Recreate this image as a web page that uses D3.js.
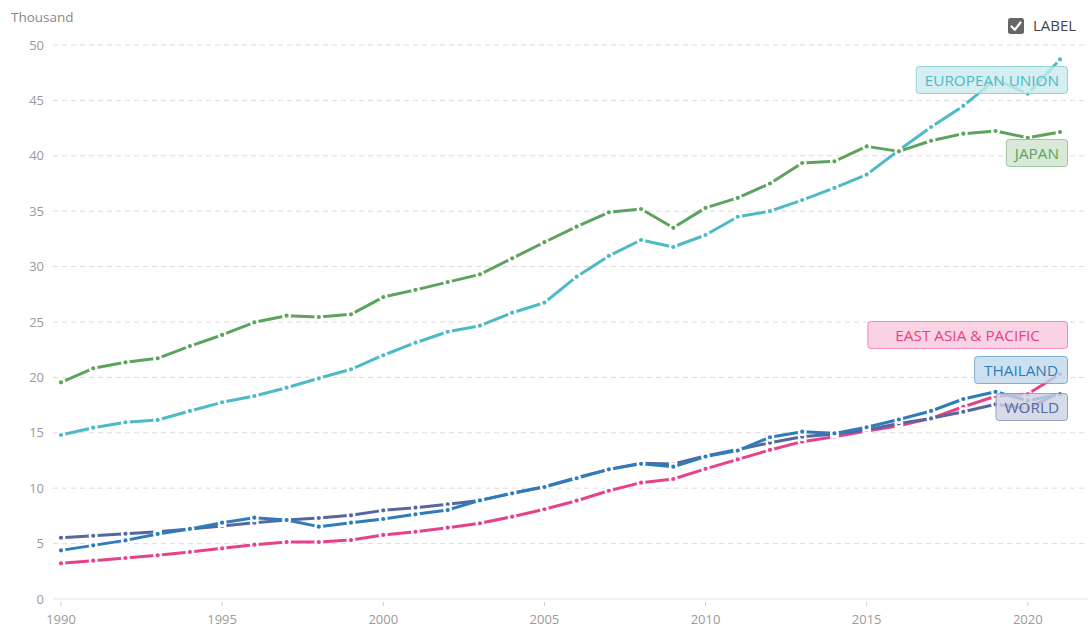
<!DOCTYPE html>
<html>
<head>
<meta charset="utf-8">
<script src="https://cdn.jsdelivr.net/npm/d3@7"></script>
<style>
  html, body { margin: 0; padding: 0; background: #fff; }
  svg { display: block; font-family: "Open Sans", "Noto Sans", sans-serif; }
</style>
</head>
<body>
<svg id="chart" width="1088" height="628"></svg>
<script>
const years = d3.range(1990, 2022);
const seriesNames = ["European Union", "Japan", "East Asia & Pacific", "Thailand", "World"];
const seriesLabels = ["EUROPEAN UNION", "JAPAN", "EAST ASIA & PACIFIC", "THAILAND", "WORLD"];
const euValues = [14.8, 15.46, 15.95, 16.16, 16.97, 17.75, 18.32, 19.07, 19.92, 20.73, 22.0, 23.13, 24.12, 24.67, 25.84, 26.74, 29.09, 30.96, 32.4, 31.77, 32.85, 34.5, 35.0, 36.0, 37.1, 38.3, 40.5, 42.6, 44.5, 46.9, 45.6, 48.7];
const japanValues = [19.56, 20.82, 21.36, 21.72, 22.83, 23.83, 24.97, 25.57, 25.45, 25.69, 27.25, 27.9, 28.6, 29.3, 30.75, 32.2, 33.6, 34.9, 35.2, 33.5, 35.3, 36.2, 37.5, 39.35, 39.5, 40.85, 40.4, 41.36, 42.0, 42.24, 41.63, 42.15];
const eapValues = [3.22, 3.46, 3.70, 3.94, 4.24, 4.57, 4.9, 5.14, 5.14, 5.32, 5.78, 6.07, 6.44, 6.83, 7.43, 8.1, 8.87, 9.77, 10.5, 10.83, 11.75, 12.6, 13.45, 14.2, 14.65, 15.16, 15.64, 16.3, 17.35, 18.3, 18.5, 20.3];
const thailandValues = [4.39, 4.84, 5.29, 5.87, 6.32, 6.89, 7.34, 7.13, 6.53, 6.89, 7.22, 7.64, 8.03, 8.9, 9.54, 10.1, 10.9, 11.7, 12.2, 11.94, 12.85, 13.4, 14.6, 15.1, 14.95, 15.5, 16.2, 16.97, 18.05, 18.7, 17.9, 18.5];
const worldValues = [5.53, 5.71, 5.89, 6.07, 6.32, 6.59, 6.89, 7.13, 7.31, 7.55, 8.0, 8.24, 8.55, 8.9, 9.54, 10.14, 10.95, 11.7, 12.25, 12.18, 12.9, 13.5, 14.1, 14.65, 14.9, 15.25, 15.85, 16.3, 16.9, 17.57, 17.2, 18.65];
const yTicks = [0, 5, 10, 15, 20, 25, 30, 35, 40, 45, 50];
const xTicks = [1990, 1995, 2000, 2005, 2010, 2015, 2020];
const unitLabel = "Thousand";
const legendText = "LABEL";

const colors = ["#4dbac6", "#5ca35c", "#e6428a", "#2e7dbb", "#5667a0"];
const valuesList = [euValues, japanValues, eapValues, thailandValues, worldValues];
// label layout (pixels), layout only
const labelCenters = [80, 153, 335, 370, 407];
const labelPads = [9, 9, 28, 10, 9];

const svg = d3.select("#chart");
const x = d3.scaleLinear().domain([1990, 2021]).range([61, 1060]);
const y = d3.scaleLinear().domain([0, 50]).range([599, 45]);
const gridLeft = 53, gridRight = 1088;

// grid
svg.append("g").selectAll("line")
  .data(yTicks.filter(d => d > 0))
  .join("line")
  .attr("x1", gridLeft).attr("x2", gridRight)
  .attr("y1", d => y(d)).attr("y2", d => y(d))
  .attr("stroke", "#dcdcdc").attr("stroke-width", 1)
  .attr("stroke-dasharray", "5,4");
svg.append("line")
  .attr("x1", gridLeft).attr("x2", gridRight)
  .attr("y1", y(0)).attr("y2", y(0))
  .attr("stroke", "#e2e2e2").attr("stroke-width", 1);

// y axis labels
svg.append("g").selectAll("text")
  .data(yTicks)
  .join("text")
  .attr("x", 44).attr("y", d => y(d))
  .attr("dy", "0.35em")
  .attr("text-anchor", "end")
  .attr("font-size", 13)
  .attr("fill", "#9a9a9a")
  .text(d => d);

svg.append("text")
  .attr("x", 11).attr("y", 22)
  .attr("font-size", 13.5)
  .attr("fill", "#888")
  .text(unitLabel);

// x axis ticks & labels
const xg = svg.append("g");
xg.selectAll("line")
  .data(xTicks)
  .join("line")
  .attr("x1", d => x(d)).attr("x2", d => x(d))
  .attr("y1", y(0) + 3).attr("y2", y(0) + 7)
  .attr("stroke", "#cfcfcf");
xg.selectAll("text")
  .data(xTicks)
  .join("text")
  .attr("x", d => x(d)).attr("y", 624)
  .attr("text-anchor", "middle")
  .attr("font-size", 13)
  .attr("fill", "#9a9a9a")
  .text(d => d);

// lines
const line = d3.line().x((d, i) => x(years[i])).y(d => y(d));
const drawOrder = [0, 1, 2, 4, 3];
drawOrder.forEach(si => {
  const vals = valuesList[si];
  const g = svg.append("g");
  g.append("path")
    .datum(vals)
    .attr("d", line)
    .attr("fill", "none")
    .attr("stroke", colors[si])
    .attr("stroke-width", 3)
    .attr("stroke-linejoin", "round");
  g.selectAll("circle")
    .data(vals)
    .join("circle")
    .attr("cx", (d, i) => x(years[i]))
    .attr("cy", d => y(d))
    .attr("r", 3.3)
    .attr("fill", colors[si])
    .attr("stroke", "#fff")
    .attr("stroke-width", 2.4);
});

// labels
const labelRight = 1068, labelH = 28;
seriesLabels.forEach((lab, si) => {
  const g = svg.append("g");
  const cy = labelCenters[si];
  const t = g.append("text")
    .attr("y", cy).attr("dy", "0.36em")
    .attr("font-size", 15.3)
    .attr("fill", colors[si])
    .text(lab);
  const w = t.node().getComputedTextLength();
  const pad = labelPads[si];
  const bw = w + 2 * pad;
  const bx = labelRight - bw;
  g.insert("rect", "text")
    .attr("x", bx).attr("y", cy - labelH / 2)
    .attr("width", bw).attr("height", labelH)
    .attr("rx", 3)
    .attr("fill", "#fff").attr("fill-opacity", 0.75);
  g.insert("rect", "text")
    .attr("x", bx + 0.5).attr("y", cy - labelH / 2 + 0.5)
    .attr("width", bw - 1).attr("height", labelH - 1)
    .attr("rx", 3)
    .attr("fill", colors[si]).attr("fill-opacity", 0.24)
    .attr("stroke", colors[si]).attr("stroke-opacity", 0.55)
    .attr("stroke-width", 1);
  t.attr("x", bx + pad);
});

// legend checkbox
const lg = svg.append("g");
lg.append("rect")
  .attr("x", 1008).attr("y", 18).attr("width", 16).attr("height", 16)
  .attr("rx", 2.5).attr("fill", "#666");
lg.append("path")
  .attr("d", "M1011.5,26.5 L1014.8,29.8 L1020.5,22.5")
  .attr("fill", "none").attr("stroke", "#fff")
  .attr("stroke-width", 2.2).attr("stroke-linecap", "round").attr("stroke-linejoin", "round");
lg.append("text")
  .attr("x", 1033).attr("y", 26).attr("dy", "0.36em")
  .attr("font-size", 15).attr("fill", "#444")
  .text(legendText);
</script>
</body>
</html>
